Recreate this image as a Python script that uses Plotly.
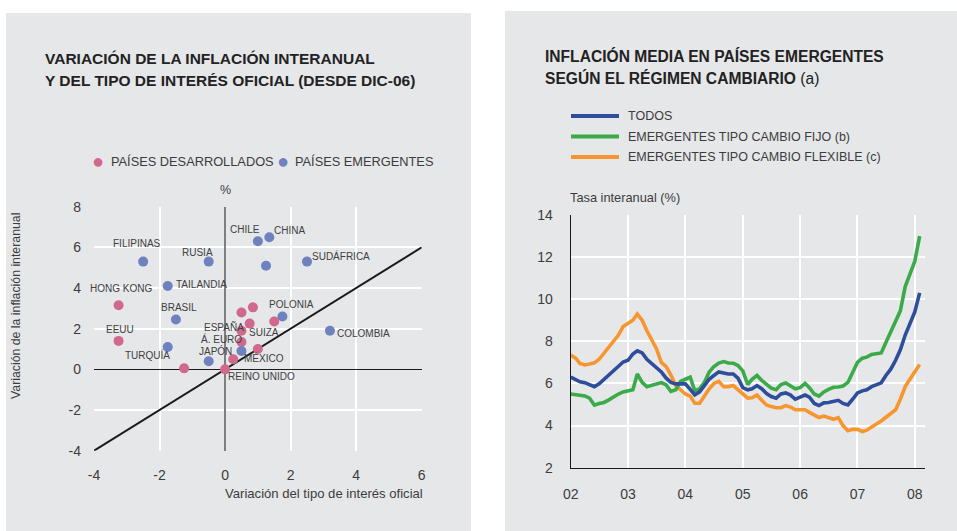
import plotly.graph_objects as go
import pandas as pd

W, H = 957, 531

# ---- left chart data: change in policy rate (x) vs change in inflation (y), since Dec-06
dev_names = ["HONG KONG", "EEUU", "", "REINO UNIDO", "", "ESPAÑA", "Á. EURO", "", "", "SUIZA", "", "MÉXICO"]
dev_x = [-3.25, -3.25, -1.25, 0.0, 0.25, 0.5, 0.5, 0.5, 0.85, 0.75, 1.5, 1.0]
dev_y = [3.15, 1.4, 0.05, 0.0, 0.5, 1.9, 1.35, 2.8, 3.05, 2.25, 2.35, 1.0]

eme_names = ["FILIPINAS", "RUSIA", "CHILE", "CHINA", "", "SUDÁFRICA", "TAILANDIA", "BRASIL",
             "TURQUÍA", "JAPÓN", "", "POLONIA", "COLOMBIA"]
eme_x = [-2.5, -0.5, 1.0, 1.35, 1.25, 2.5, -1.75, -1.5, -1.75, -0.5, 0.5, 1.75, 3.2]
eme_y = [5.3, 5.3, 6.3, 6.5, 5.1, 5.3, 4.1, 2.45, 1.1, 0.4, 0.9, 2.6, 1.9]

# label offsets (pixels) relative to each point
dev_off = [(2, 17), (1, 11), None, (36, -7), None, (-17, 4), (-20, 3), None, None, (14, -9), None, (6, -9)]
eme_off = [(-6, 18), (-11, 9), (-13, 12), (20, 7), None, (34, 6), (34, 2), (3, 12),
           (-20, -8), (7, 10), None, (9, 12), (34, -3)]

left_x_ticks = [-4, -2, 0, 2, 4, 6]
left_y_ticks = [-4, -2, 0, 2, 4, 6, 8]

# ---- right chart data: average inflation in emerging economies, monthly from Jan-02
months = pd.date_range("2002-01-01", periods=74, freq="MS")
todos = [6.3, 6.2, 6.08, 6.04, 5.95, 5.85, 5.98, 6.2, 6.4, 6.6,
         6.85, 7.02, 7.1, 7.4, 7.55, 7.45, 7.15, 6.95, 6.8, 6.55,
         6.25, 6.05, 5.98, 5.96, 5.98, 5.72, 5.46, 5.6, 5.9, 6.2,
         6.38, 6.55, 6.5, 6.45, 6.45, 6.25, 5.8, 5.7, 5.75, 5.9,
         5.75, 5.52, 5.38, 5.3, 5.5, 5.55, 5.45, 5.25, 5.35, 5.45,
         5.35, 5.05, 4.95, 5.08, 5.1, 5.15, 5.2, 5.05, 4.98, 5.25,
         5.55, 5.65, 5.7, 5.85, 5.95, 6.03, 6.38, 6.68, 7.1, 7.6,
         8.3, 8.9, 9.4, 10.3]
fijo = [5.5, 5.47, 5.43, 5.41, 5.3, 4.97, 5.05, 5.1, 5.22, 5.38,
        5.5, 5.6, 5.66, 5.7, 6.45, 6.05, 5.85, 5.9, 5.98, 6.04,
        5.93, 5.62, 5.7, 6.1, 6.2, 6.3, 5.65, 5.75, 6.05, 6.55,
        6.8, 6.97, 7.04, 6.97, 6.96, 6.85, 6.6, 5.95, 6.2, 6.38,
        6.15, 5.97, 5.78, 5.7, 5.95, 6.02, 5.88, 5.75, 5.8, 6.0,
        5.8, 5.5, 5.4, 5.6, 5.72, 5.82, 5.83, 5.88, 6.05, 6.55,
        7.0, 7.2, 7.25, 7.38, 7.4, 7.45, 7.95, 8.45, 8.92, 9.45,
        10.6, 11.2, 11.8, 13.0]
flexible = [7.35, 7.2, 6.95, 6.88, 6.92, 6.98, 7.15, 7.45, 7.75, 8.0,
            8.3, 8.7, 8.85, 9.0, 9.3, 9.0, 8.5, 8.1, 7.65, 7.0,
            6.8, 6.4, 5.9, 5.7, 5.5, 5.4, 5.06, 5.06, 5.4, 5.75,
            6.0, 6.1, 5.85, 5.85, 5.9, 5.7, 5.45, 5.3, 5.32, 5.45,
            5.2, 4.98, 4.9, 4.85, 4.85, 4.95, 4.88, 4.75, 4.75, 4.75,
            4.63, 4.48, 4.38, 4.45, 4.38, 4.3, 4.38, 4.0, 3.76, 3.82,
            3.82, 3.72, 3.78, 3.95, 4.08, 4.22, 4.38, 4.58, 4.75, 5.25,
            5.85, 6.2, 6.55, 6.9]

series_names = ["TODOS", "EMERGENTES TIPO CAMBIO FIJO (b)", "EMERGENTES TIPO CAMBIO FLEXIBLE (c)"]
series_colors = ["#2E4D9B", "#3BAA48", "#F7962F"]

PINK = "#D0698B"
BLUE = "#6F81BF"
BG = "#E6E7E9"
TXT = "#3C3C3C"
FONT = "Liberation Sans, Arial, sans-serif"


def fx(x):
    return x / W


def fy(y):
    return 1 - y / H


fig = go.Figure()

# left: 45 degree reference line
fig.add_trace(go.Scatter(x=[-4, 6], y=[-4, 6], mode="lines", line=dict(color="#1A1A1A", width=2),
                         xaxis="x", yaxis="y", hoverinfo="skip"))
fig.add_trace(go.Scatter(x=dev_x, y=dev_y, mode="markers", name="PAÍSES DESARROLLADOS",
                         marker=dict(color=PINK, size=10), xaxis="x", yaxis="y", hovertext=dev_names))
fig.add_trace(go.Scatter(x=eme_x, y=eme_y, mode="markers", name="PAÍSES EMERGENTES",
                         marker=dict(color=BLUE, size=10), xaxis="x", yaxis="y", hovertext=eme_names))

# right: lines (blue drawn last, on top)
right_series = [todos, fijo, flexible]
for i in [2, 1, 0]:
    fig.add_trace(go.Scatter(x=months, y=right_series[i], mode="lines", name=series_names[i],
                             line=dict(color=series_colors[i], width=3.6), xaxis="x2", yaxis="y2"))

annotations = []
# country labels
for names, xs, ys, offs in [(dev_names, dev_x, dev_y, dev_off), (eme_names, eme_x, eme_y, eme_off)]:
    for n, x, y, o in zip(names, xs, ys, offs):
        if n and o:
            annotations.append(dict(x=x, y=y, xref="x", yref="y", text=n, showarrow=False,
                                    xshift=o[0], yshift=o[1], font=dict(size=10, color="#404040")))


def paper_text(x, y, text, size, color=TXT, xanchor="left", **kw):
    annotations.append(dict(x=fx(x), y=fy(y), xref="paper", yref="paper", text=text,
                            showarrow=False, xanchor=xanchor, yanchor="middle",
                            font=dict(size=size, color=color), **kw))


# titles
paper_text(43, 58, "<b>VARIACIÓN DE LA INFLACIÓN INTERANUAL</b>", 15.5, "#222222")
paper_text(43, 80, "<b>Y DEL TIPO DE INTERÉS OFICIAL (DESDE DIC-06)</b>", 15.5, "#222222")
paper_text(543, 56, "<b>INFLACIÓN MEDIA EN PAÍSES EMERGENTES</b>", 15.6, "#222222")
paper_text(543, 78, "<b>SEGÚN EL RÉGIMEN CAMBIARIO</b> (a)", 15.6, "#222222")

# left legend
paper_text(97.7, 161, "●", 20, PINK, xanchor="center")
paper_text(108.5, 161, "PAÍSES DESARROLLADOS", 12.8)
paper_text(283, 161, "●", 20, BLUE, xanchor="center")
paper_text(293, 161, "PAÍSES EMERGENTES", 12.8)

# axis titles / units
paper_text(225, 190, "%", 12.5, xanchor="center")
paper_text(425, 493, "Variación del tipo de interés oficial", 13.1, xanchor="right")
paper_text(16, 306, "Variación de la inflación interanual", 12.3, xanchor="center", textangle=-90)
paper_text(568, 197, "Tasa interanual (%)", 12.8)

# panel backgrounds
shapes = [
    dict(type="rect", xref="paper", yref="paper", x0=fx(6), x1=fx(471), y0=0, y1=fy(13),
         fillcolor=BG, line=dict(width=0), layer="below"),
    dict(type="rect", xref="paper", yref="paper", x0=fx(505), x1=1, y0=0, y1=fy(11),
         fillcolor=BG, line=dict(width=0), layer="below"),
]
# right legend
for k, (name, col) in enumerate(zip(series_names, series_colors)):
    yy = 116 + k * 20.5
    shapes.append(dict(type="line", xref="paper", yref="paper", x0=fx(571), x1=fx(619),
                       y0=fy(yy), y1=fy(yy), line=dict(color=col, width=4)))
    paper_text(626, yy, name, 12.5)

tickfont = dict(size=14, color=TXT)
fig.update_layout(
    width=W, height=H,
    margin=dict(l=0, r=0, t=0, b=0, autoexpand=False),
    paper_bgcolor="white",
    plot_bgcolor="rgba(0,0,0,0)",
    showlegend=False,
    font=dict(family=FONT, color=TXT),
    annotations=annotations,
    shapes=shapes,
    xaxis=dict(domain=[fx(94), fx(421.7)], range=[-4, 6],
               tickvals=left_x_ticks, ticktext=[str(v) for v in left_x_ticks],
               showgrid=True, gridcolor="white", gridwidth=2,
               zeroline=True, zerolinecolor="#7F7F7F", zerolinewidth=2,
               showline=False, ticks="", ticklabelstandoff=14, automargin=False,
               tickfont=tickfont, anchor="y"),
    yaxis=dict(domain=[fy(450.7), fy(206.7)], range=[-4, 8],
               tickvals=left_y_ticks, ticktext=[str(v) for v in left_y_ticks],
               showgrid=True, gridcolor="white", gridwidth=2,
               zeroline=True, zerolinecolor="#1A1A1A", zerolinewidth=1.3,
               showline=False, ticks="", ticklabelstandoff=12, automargin=False,
               tickfont=tickfont, anchor="x"),
    xaxis2=dict(domain=[fx(570.7), fx(925)], type="date",
                range=["2002-01-01", "2008-03-06"], dtick="M12", tick0="2002-01-01",
                tickformat="%y", showgrid=True, gridcolor="white", gridwidth=2,
                showline=True, linecolor="#1A1A1A", linewidth=1.3, zeroline=False,
                ticks="", ticklabelstandoff=13, automargin=False, tickfont=tickfont, anchor="y2"),
    yaxis2=dict(domain=[fy(467.7), fy(215)], range=[2, 14], dtick=2,
                showgrid=True, gridcolor="white", gridwidth=2,
                showline=True, linecolor="#1A1A1A", linewidth=1.3, zeroline=False,
                ticks="", ticklabelstandoff=14, automargin=False, tickfont=tickfont, anchor="x2"),
)

# drop the default page margin so the figure sits at the top-left corner
fig.write_html("out.html", config={"displayModeBar": False},
               post_script="document.body.style.margin='0';document.body.style.overflow='hidden';")
